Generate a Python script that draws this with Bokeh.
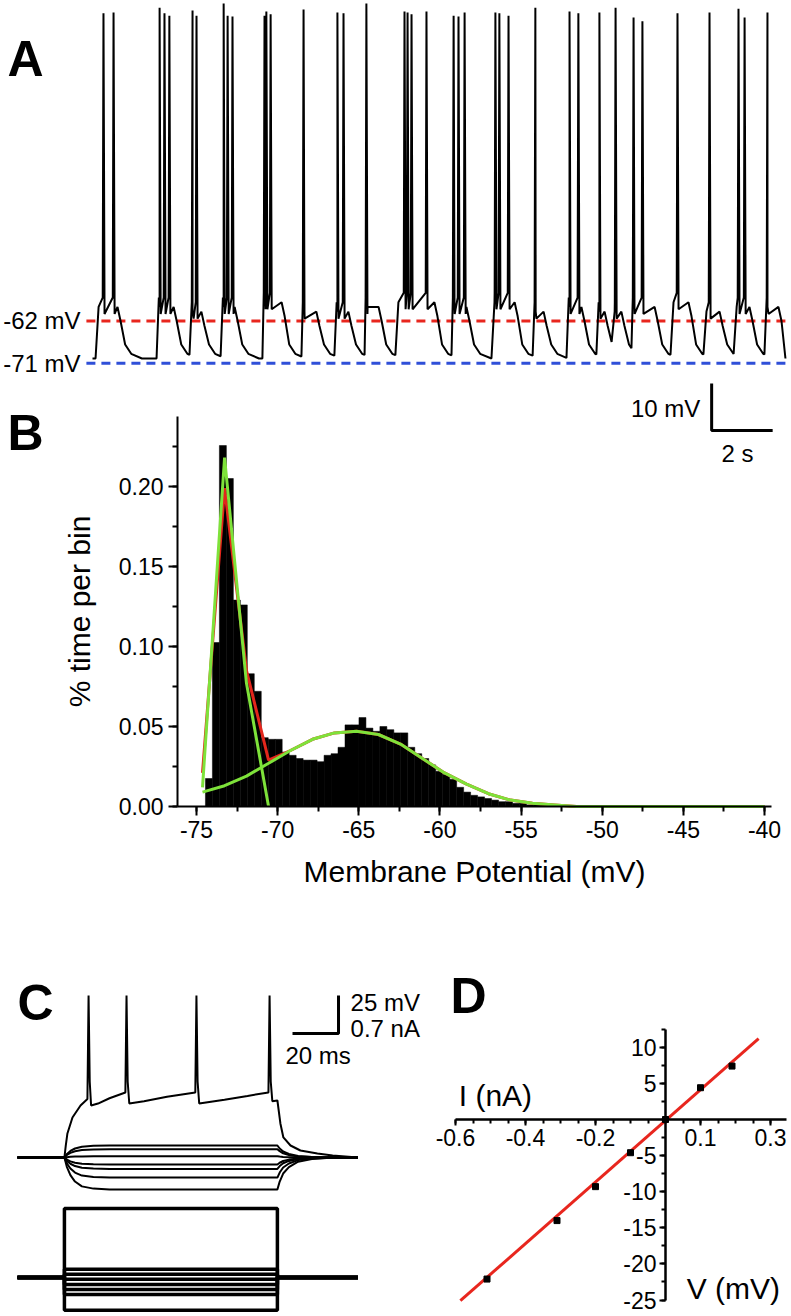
import numpy as np
from bokeh.plotting import figure
from bokeh.models import (Range1d, LinearAxis, FixedTicker, SingleIntervalTicker,
                          NumeralTickFormatter)
from bokeh.embed import file_html
from bokeh.resources import INLINE
from bokeh.core.properties import value

# ======================= DATA =======================
# Panel A - up/down state recording
a_burst_on_s = [0.10, 2.10, 3.18, 4.20, 5.57, 6.85, 7.93, 8.92, 9.93, 11.77,
                13.08, 14.43, 15.54, 16.52, 17.02, 17.67, 18.95, 20.03, 21.02, 22.03]
a_burst_off_s = [0.82, 2.66, 3.57, 4.66, 6.20, 7.34, 8.39, 9.38, 11.21, 12.26,
                 13.84, 14.79, 16.03, 16.79, 17.34, 18.43, 19.54, 20.56, 21.54, 22.49]
a_burst_level_mv = [-59, -59, -60, -59, -58, -60, -60, -59, -58, -59,
                    -58, -60, -59, -60, -60, -59, -58, -60, -59, -59]
a_spike_s = [0.36, 0.69, 2.20, 2.36, 2.52, 3.28, 3.41, 4.30, 4.43, 4.59,
             5.64, 5.70, 5.84, 6.92, 8.03, 8.23, 8.98, 10.23, 10.33, 10.46,
             10.95, 11.84, 12.00, 12.20, 13.21, 13.34, 13.64, 14.52, 15.64, 15.93,
             16.62, 17.15, 17.74, 18.03, 19.18, 20.23, 21.18, 21.38, 22.13]
a_spike_peak_mv = [3.6, 3.8, 4.8, 3.6, 3.1, 4.2, 3.1, 5.7, 3.1, 2.9,
                   3.1, 4.0, 3.4, 4.4, 3.8, 3.6, 5.7, 4.0, 3.8, 3.4,
                   4.0, 3.1, 2.9, 3.8, 3.8, 3.6, 3.1, 4.8, 4.0, 3.6,
                   3.8, 4.8, 2.7, 1.9, 3.6, 3.8, 4.6, 2.7, 3.8]
a_rest_mv = -70.0
a_trace_end_s = 22.72
a_ref_levels_mv = [-62, -71]
a_ref_labels = ["-62 mV", "-71 mV"]
a_ref_colors = ["#e8261e", "#2f4fd8"]

# Panel B - membrane potential histogram and fits
b_hist_first_edge_mv = -74.45
b_hist_bin_mv = 0.43
b_hist_frac = [0.0175, 0.1025, 0.2256, 0.205, 0.129, 0.126, 0.083, 0.072, 0.043, 0.042,
               0.042, 0.034, 0.032, 0.030, 0.029, 0.029, 0.028, 0.032, 0.033, 0.037,
               0.051, 0.051, 0.0556, 0.049, 0.047, 0.050, 0.048, 0.046, 0.046, 0.037,
               0.033, 0.030, 0.026, 0.022, 0.020, 0.017, 0.012, 0.009, 0.007, 0.006,
               0.005, 0.004, 0.003, 0.003, 0.002, 0.002, 0.001, 0.001, 0.001]
b_fit_mv = [-74.63, -73.27, -71.92, -70.56, -69.21, -67.85, -66.50, -65.14, -63.79,
            -62.43, -61.08, -59.72, -58.36, -57.01, -55.65, -54.30, -52.94, -51.59,
            -50.23, -48.88, -47.52, -46.17, -44.81, -43.45, -42.10, -40.74, -40.0]
b_broad_frac = [0.009, 0.013, 0.019, 0.027, 0.035, 0.042, 0.046, 0.047, 0.045,
                0.039, 0.030, 0.021, 0.014, 0.008, 0.004, 0.002, 0.001, 0.0,
                0.0, 0.0, 0.0, 0.0, 0.0, 0.0, 0.0, 0.0, 0.0]
b_narrow_frac = [0.012, 0.218, 0.077, 0.0]
b_sum_head_frac = [0.021, 0.199, 0.085, 0.029]

# Panel C - current-clamp steps
c_pulse_on_ms = 20.4
c_pulse_off_ms = 113.0
c_end_ms = 148.0
c_rest_mv = -70.0
c_spk_t_ms = [0, 20.4, 21.0, 21.7, 23.9, 27.4, 30.4, 30.9, 31.4, 32.0, 35, 40, 46.9,
              47.4, 47.9, 48.6, 55, 65, 77.3, 77.8, 78.3, 79.0, 90, 100, 109.1,
              109.6, 110.1, 110.8, 113.0, 114.3, 115.6, 118.7, 123.0, 130.4, 137.0, 148.0]
c_spk_mv = [-70, -70, -62, -54.2, -43.7, -35.8, -31.5, 36.6, -20, -35.8, -34.5, -31, -27.2,
            36.6, -20, -34.5, -33, -30, -27.2, 36.6, -20, -34.5, -32, -29.5, -27.2,
            36.6, -20, -33, -32.5, -47.6, -56.8, -62.1, -65.4, -67.4, -68.7, -70]
c_sub_dv_mv = [7.9, 5.5, 0.8, -4.6, -7.5, -13.2, -21.1]
c_shape_t_ms = [0, 20.4, 21.5, 23, 25, 28, 33, 40, 113, 114, 115.5, 118, 122, 128, 136, 148]
c_shape_frac = [0, 0, 0.3, 0.55, 0.75, 0.9, 0.97, 1.0, 1.0, 0.75, 0.5, 0.3, 0.13, 0.05, 0.01, 0]
c_step_na = [1.27, 0.153, 0.061, -0.031, -0.129, -0.221, -0.313, -0.602]

# Panel D - I/V relation
d_v_mv = [-0.51, -0.31, -0.20, -0.10, 0.0, 0.10, 0.19]
d_i_na = [-22.1, -14.0, -9.3, -4.6, 0.0, 4.4, 7.4]
d_fit_v = [-0.586, 0.266]
d_fit_i = [-25.1, 11.2]
d_xticks = [-0.6, -0.4, -0.2, 0.1, 0.3]
d_yticks = [-25, -20, -15, -10, -5, 5, 10]

# ======================= LAYOUT =======================
W, H = 791, 1316
ORG = 0  # reference pixel -> canvas pixel offset (page has no margin)
FONT = "Liberation Sans"


def xr(val, ref_px, ppu):
    start = val - (ref_px - ORG) / ppu
    return Range1d(start, start + W / ppu)


def yr(val, ref_px, ppu):
    top = val + (ref_px - ORG) / ppu
    return Range1d(top - H / ppu, top)


p = figure(width=W, height=H, x_range=xr(-75, 196, 16.23), y_range=yr(0, 806, 1600),
           x_axis_type=None, y_axis_type=None, toolbar_location=None,
           output_backend="svg", min_border=0, outline_line_color=None)
p.background_fill_color = "white"
p.border_fill_color = "white"
p.extra_x_ranges = {"a_t": xr(0, 92, 30.5), "c_t": xr(0, 17, 2.3),
                    "d_v": xr(0, 665, 350), "px": xr(ORG, ORG, 1)}
p.extra_y_ranges = {"a_mv": yr(-71, 362.7, 4.69), "c_mv": yr(-70, 1157, 1.52),
                    "c_na": yr(0, 1277, 54.3), "d_i": yr(0, 1119, 7.22),
                    "px": yr(ORG, ORG, -1)}


def label(x, y, txt, size, xn, yn, align="left", baseline="middle", bold=False):
    p.text(x=[x], y=[y], text=[txt], x_range_name=xn, y_range_name=yn,
           text_font=value(FONT), text_font_size=size, text_color="black",
           text_align=align, text_baseline=baseline,
           text_font_style="bold" if bold else "normal")


# ---------------- Panel A ----------------
for lv, col, lab in zip(a_ref_levels_mv, a_ref_colors, a_ref_labels):
    p.line([-0.2, a_trace_end_s], [lv, lv], x_range_name="a_t", y_range_name="a_mv",
           line_color=col, line_width=3, line_dash="9 6")
    label(-0.39, lv, lab, "24px", "a_t", "a_mv", align="right")

a_t, a_v = [0.0], [a_rest_mv]
decay_prev_t, decay_prev_v = None, None
for i, (on, off, lvl) in enumerate(zip(a_burst_on_s, a_burst_off_s, a_burst_level_mv)):
    v0 = a_rest_mv if decay_prev_t is None else float(np.interp(on, decay_prev_t, decay_prev_v))
    pts = [(on, v0), (on + 0.1, lvl)]
    for s, pk in zip(a_spike_s, a_spike_peak_mv):
        if on <= s <= off:
            pts += [(s - 0.025, lvl + 2), (s, pk), (s + 0.035, lvl - 1.5)]
    pts.sort()
    nxt = a_burst_on_s[i + 1] if i + 1 < len(a_burst_on_s) else a_trace_end_s + 1
    dt = [off, off + 0.1, off + 0.25, off + 0.45, off + 0.8]
    dv = [lvl, lvl - 3, a_rest_mv + 3, a_rest_mv + 1, a_rest_mv]
    decay_prev_t, decay_prev_v = dt, dv
    pts += [(t, v) for t, v in zip(dt, dv) if t < nxt - 0.02 and t <= a_trace_end_s]
    for t, v in pts:
        a_t.append(t)
        a_v.append(v)
if a_t[-1] < a_trace_end_s:
    a_t.append(a_trace_end_s)
    a_v.append(a_rest_mv)
p.line(a_t, a_v, x_range_name="a_t", y_range_name="a_mv", line_color="black", line_width=2)

# scale bar A (10 mV, 2 s)
p.line([20.30, 20.30, 22.30], [-75.35, -85.35, -85.35], x_range_name="a_t",
       y_range_name="a_mv", line_color="black", line_width=3)
label(19.93, -80.7, "10 mV", "24px", "a_t", "a_mv", align="right")
label(21.15, -90.3, "2 s", "24px", "a_t", "a_mv", align="center")

# panel letters
label(7, 58, "A", "50px", "px", "px", baseline="alphabetic", bold=True)
label(7, 432, "B", "50px", "px", "px", baseline="alphabetic", bold=True)
label(17, 1002, "C", "50px", "px", "px", baseline="alphabetic", bold=True)
label(450, 995, "D", "50px", "px", "px", baseline="alphabetic", bold=True)

# ---------------- Panel B ----------------
edges = b_hist_first_edge_mv + b_hist_bin_mv * np.arange(len(b_hist_frac) + 1)
p.quad(left=edges[:-1], right=edges[1:], bottom=0, top=b_hist_frac,
       fill_color="black", line_color="black", line_width=0.5)
b_sum_frac = b_sum_head_frac + b_broad_frac[4:]
p.line(b_fit_mv, b_sum_frac, line_color="#e3261c", line_width=3)
p.line(b_fit_mv[:4], b_narrow_frac, line_color="#7ee23a", line_width=3)
p.line(b_fit_mv, b_broad_frac, line_color="#7ee23a", line_width=3)

bx = LinearAxis(fixed_location=0, bounds=(-76.17, -39.6),
                ticker=SingleIntervalTicker(interval=5, num_minor_ticks=2),
                formatter=NumeralTickFormatter(format="0"),
                axis_label="Membrane Potential (mV)")
by = LinearAxis(fixed_location=-76.17, bounds=(0, 0.244),
                ticker=SingleIntervalTicker(interval=0.05, num_minor_ticks=2),
                formatter=NumeralTickFormatter(format="0.00"),
                axis_label="% time per bin")
for ax in (bx, by):
    ax.axis_line_width = 2
    ax.major_tick_line_width = 2
    ax.minor_tick_line_width = 2
    ax.major_tick_out = 9
    ax.major_tick_in = 0
    ax.minor_tick_out = 5
    ax.minor_tick_in = 0
    ax.major_label_text_font = FONT
    ax.major_label_text_font_size = "23px"
    ax.major_label_text_color = "black"
    ax.axis_label_text_font = FONT
    ax.axis_label_text_font_size = "30px"
    ax.axis_label_text_font_style = "normal"
    ax.axis_label_text_color = "black"
bx.major_label_standoff = 5
bx.axis_label_standoff = 14
by.major_label_standoff = 5
by.axis_label_standoff = 20
p.add_layout(bx, "below")
p.add_layout(by, "left")

# ---------------- Panel C ----------------
shape = np.array(c_shape_frac)
for dv in c_sub_dv_mv:
    p.line(c_shape_t_ms, c_rest_mv + dv * shape, x_range_name="c_t", y_range_name="c_mv",
           line_color="black", line_width=2)
p.line(c_spk_t_ms, c_spk_mv, x_range_name="c_t", y_range_name="c_mv",
       line_color="black", line_width=2)
for amp in c_step_na:
    p.line([0, c_pulse_on_ms, c_pulse_on_ms, c_pulse_off_ms, c_pulse_off_ms, c_end_ms],
           [0, 0, amp, amp, 0, 0], x_range_name="c_t", y_range_name="c_na",
           line_color="black", line_width=3.5)

# scale bar C (25 mV / 0.7 nA, 20 ms)
p.line([119.57, 139.57, 139.57], [11.58, 11.58, 36.58], x_range_name="c_t",
       y_range_name="c_mv", line_color="black", line_width=3)
label(144.8, 32.0, "25 mV", "24px", "c_t", "c_mv")
label(144.8, 14.9, "0.7 nA", "24px", "c_t", "c_mv")
label(116.5, -2.9, "20 ms", "24px", "c_t", "c_mv")

# ---------------- Panel D ----------------
p.line(d_fit_v, d_fit_i, x_range_name="d_v", y_range_name="d_i",
       line_color="#e8261e", line_width=3)
p.scatter(d_v_mv, d_i_na, x_range_name="d_v", y_range_name="d_i", marker="square",
          size=6, fill_color="black", line_color="black")

dx = LinearAxis(x_range_name="d_v", y_range_name="d_i", fixed_location=0,
                bounds=(-0.6, 0.345),
                ticker=FixedTicker(ticks=d_xticks,
                                   minor_ticks=list(np.round(np.arange(-0.6, 0.34, 0.05), 2))),
                formatter=NumeralTickFormatter(format="0.0"))
dy = LinearAxis(x_range_name="d_v", y_range_name="d_i", fixed_location=0,
                bounds=(-25, 12.5),
                ticker=FixedTicker(ticks=d_yticks,
                                   minor_ticks=list(np.arange(-25, 12.6, 2.5))),
                formatter=NumeralTickFormatter(format="0"))
for ax in (dx, dy):
    ax.axis_line_width = 2.5
    ax.major_tick_line_width = 2
    ax.minor_tick_line_width = 2
    ax.major_tick_out = 6
    ax.major_tick_in = 0
    ax.minor_tick_out = 4
    ax.minor_tick_in = 0
    ax.major_label_standoff = 3
    ax.major_label_text_font = FONT
    ax.major_label_text_font_size = "23px"
    ax.major_label_text_color = "black"
p.add_layout(dx, "below")
p.add_layout(dy, "left")
label(-0.486, 3.32, "I (nA)", "30px", "d_v", "d_i", align="center")
label(0.194, -23.4, "V (mV)", "30px", "d_v", "d_i", align="center")

open("out.html", "w").write(file_html(p, INLINE, "Figure"))
